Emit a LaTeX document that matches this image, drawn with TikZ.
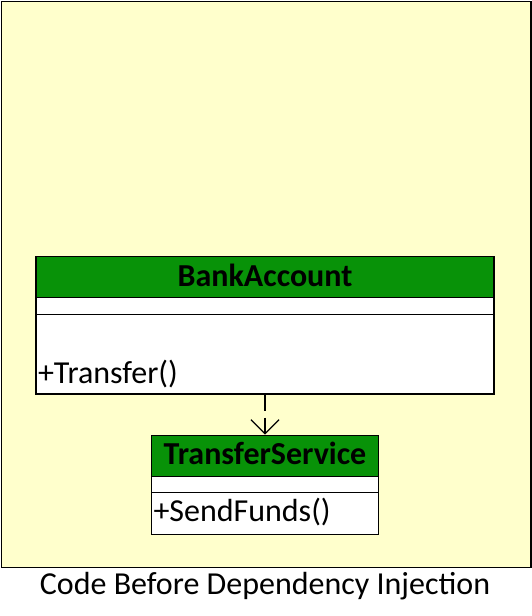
\documentclass[tikz,border=0pt]{standalone}
\usepackage{fontspec}
\setmainfont{Carlito}
\usepackage{tikz}
\usetikzlibrary{shapes.multipart,chains,positioning,arrows.meta}
\definecolor{notebg}{RGB}{255,255,204}
\definecolor{umlgreen}{RGB}{8,146,8}

\begin{document}
\begin{tikzpicture}[x=1pt,y=-1pt,
    frame/.style={rectangle, draw, line width=1.3pt, fill=notebg, inner sep=0pt},
    umlclass/.style={rectangle split, rectangle split parts=3, draw, line width=1.2pt,
        rectangle split part fill={umlgreen,white,white},
        rectangle split part align={center,left,left},
        inner xsep=2pt, inner ysep=0pt, font=\fontsize{32pt}{38pt}\selectfont},
    depends/.style={line width=1.3pt, dash pattern=on 16pt off 7pt,
        -{Straight Barb[length=14pt,width=28pt]}},
    start chain=going below, node distance=40pt]

    \useasboundingbox (0,0) rectangle (531,616);

    \node[frame, minimum width=529.6pt, minimum height=566.3pt, anchor=north west] (frame) at (0.7,0.7) {};

    % class boxes, one below the other
    \node[umlclass, on chain, minimum width=458pt, anchor=north] (BankAccount) at (265,256)
        {\rule[-10.6pt]{0pt}{40pt}\textbf{BankAccount}
         \nodepart{second}\rule{0pt}{15.6pt}
         \nodepart{third}\rule[-10pt]{0pt}{78.2pt}+Transfer()};

    \node[umlclass, on chain, minimum width=227pt] (TransferService)
        {\rule[-11pt]{0pt}{40pt}\textbf{TransferService}
         \nodepart{second}\rule{0pt}{14.8pt}
         \nodepart{third}\rule[-12.6pt]{0pt}{40.8pt}+SendFunds()};

    \draw[depends] (BankAccount.south) -- (TransferService.north);

    \node[anchor=base, font=\fontsize{32pt}{38pt}\selectfont] (caption) at (265,594) {Code Before Dependency Injection};

\end{tikzpicture}
\end{document}
